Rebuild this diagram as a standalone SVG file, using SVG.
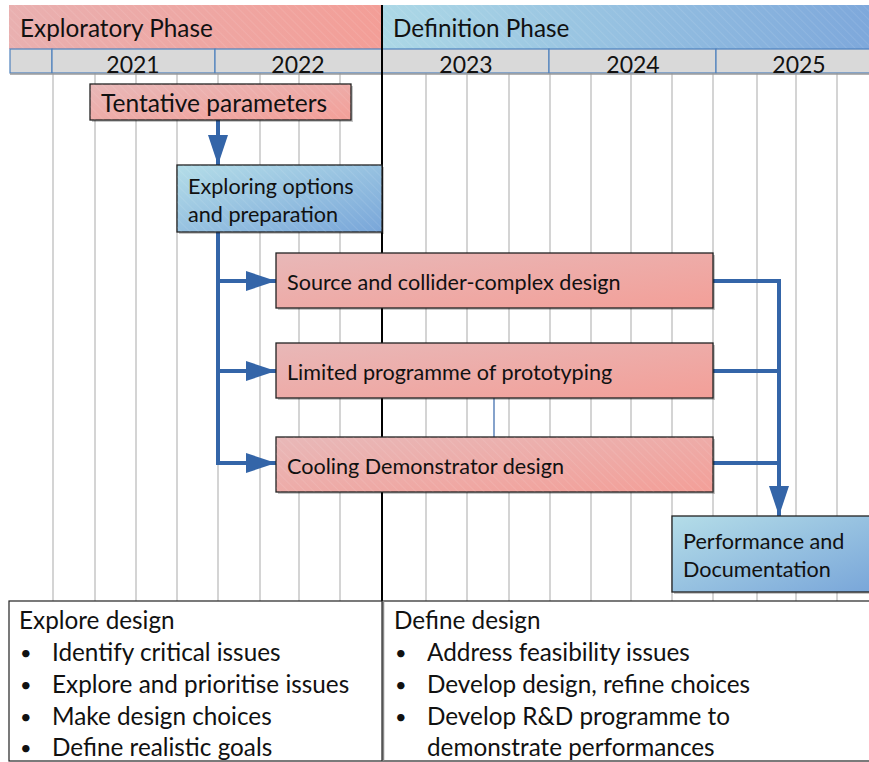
<svg xmlns="http://www.w3.org/2000/svg" width="869" height="762" viewBox="0 0 869 762">
  <defs>
    <linearGradient id="pinkFill" x1="0" y1="0" x2="1" y2="1">
      <stop offset="0" stop-color="#e8b8b8"/>
      <stop offset="1" stop-color="#f39f98"/>
    </linearGradient>
    <linearGradient id="blueFill" x1="0" y1="0" x2="1" y2="1">
      <stop offset="0" stop-color="#b4dde8"/>
      <stop offset="1" stop-color="#79a6d9"/>
    </linearGradient>
    <linearGradient id="pinkBand" x1="0" y1="0" x2="1" y2="0">
      <stop offset="0" stop-color="#e9b0b0"/>
      <stop offset="1" stop-color="#f39e97"/>
    </linearGradient>
    <linearGradient id="blueBand" x1="0" y1="0" x2="1" y2="0">
      <stop offset="0" stop-color="#acd8e6"/>
      <stop offset="1" stop-color="#7ea8db"/>
    </linearGradient>
    <pattern id="hatch" width="6" height="6" patternUnits="userSpaceOnUse" patternTransform="rotate(-45)">
      <line x1="0" y1="0" x2="0" y2="6" stroke="#ffffff" stroke-opacity="0.18" stroke-width="1"/>
    </pattern>
    <marker id="arrow" markerUnits="userSpaceOnUse" markerWidth="30" markerHeight="22" viewBox="0 0 30 22" refX="30" refY="11" orient="auto">
      <path d="M0,1 L30,11 L0,21 Z" fill="#3465a8"/>
    </marker>
    <style>
      text { font-family: Lato, "Noto Sans", "Liberation Sans", sans-serif; fill: #111; }
      .phase { font-size: 24.3px; }
      .year { font-size: 23px; text-anchor: middle; }
      .grid { stroke: #d4d4d4; stroke-width: 2; }
      .yearcell { fill: #d9d9d9; stroke: #4f81bd; stroke-width: 1.2; }
      .node { stroke: #222; stroke-width: 1.3; }
      .shadow { fill: #000; fill-opacity: 0.22; }
      .lbl { font-size: 21.6px; }
      .lblbig { font-size: 24.5px; }
      .conn { fill: none; stroke: #3465a8; stroke-width: 4; }
      .thin { fill: none; stroke: #3465a8; stroke-width: 1.2; }
      .box { fill: #fff; stroke: #222; stroke-width: 1.2; }
      .note { font-size: 24.3px; }
      .bullet { font-size: 20px; }
    </style>
  </defs>

  <rect width="869" height="762" fill="#ffffff"/>

  <!-- quarter grid -->
  <g id="grid">
    <line class="grid" x1="53" y1="73" x2="53" y2="601"/>
    <line class="grid" x1="95" y1="73" x2="95" y2="601"/>
    <line class="grid" x1="136" y1="73" x2="136" y2="601"/>
    <line class="grid" x1="177" y1="73" x2="177" y2="601"/>
    <line class="grid" x1="218" y1="73" x2="218" y2="601"/>
    <line class="grid" x1="260" y1="73" x2="260" y2="601"/>
    <line class="grid" x1="299" y1="73" x2="299" y2="601"/>
    <line class="grid" x1="340" y1="73" x2="340" y2="601"/>
    <line class="grid" x1="426" y1="73" x2="426" y2="601"/>
    <line class="grid" x1="467" y1="73" x2="467" y2="601"/>
    <line class="grid" x1="509" y1="73" x2="509" y2="601"/>
    <line class="grid" x1="550" y1="73" x2="550" y2="601"/>
    <line class="grid" x1="591" y1="73" x2="591" y2="601"/>
    <line class="grid" x1="631" y1="73" x2="631" y2="601"/>
    <line class="grid" x1="672" y1="73" x2="672" y2="601"/>
    <line class="grid" x1="713" y1="73" x2="713" y2="601"/>
    <line class="grid" x1="757" y1="73" x2="757" y2="601"/>
    <line class="grid" x1="796" y1="73" x2="796" y2="601"/>
    <line class="grid" x1="837" y1="73" x2="837" y2="601"/>
  </g>

  <!-- phase bands -->
  <g id="phase-exploratory">
    <rect x="9" y="5" width="373" height="44" fill="url(#pinkBand)"/>
    <rect x="9" y="5" width="373" height="44" fill="url(#hatch)"/>
    <text class="phase" x="20" y="37">Exploratory Phase</text>
  </g>
  <g id="phase-definition">
    <rect x="383" y="5" width="486" height="44" fill="url(#blueBand)"/>
    <rect x="383" y="5" width="486" height="44" fill="url(#hatch)"/>
    <text class="phase" x="393" y="37">Definition Phase</text>
  </g>

  <!-- year row -->
  <g id="years">
    <rect class="yearcell" x="10" y="49" width="42" height="24"/>
    <rect class="yearcell" x="52" y="49" width="163" height="24"/>
    <rect class="yearcell" x="215" y="49" width="167" height="24"/>
    <rect class="yearcell" x="382" y="49" width="167" height="24"/>
    <rect class="yearcell" x="549" y="49" width="167" height="24"/>
    <rect class="yearcell" x="716" y="49" width="160" height="24"/>
    <line x1="10" y1="74" x2="869" y2="74" stroke="#9a9a9a" stroke-width="1.5"/>
    <text class="year" x="133" y="72.5">2021</text>
    <text class="year" x="298" y="72.5">2022</text>
    <text class="year" x="466" y="72.5">2023</text>
    <text class="year" x="633" y="72.5">2024</text>
    <text class="year" x="799" y="72.5">2025</text>
  </g>

  <!-- phase boundary -->
  <line id="phase-boundary" x1="382" y1="5" x2="382" y2="601" stroke="#000" stroke-width="2"/>

  <!-- connectors -->
  <g id="connectors">
    <line class="conn" x1="218" y1="120" x2="218" y2="165" marker-end="url(#arrow)"/>
    <path class="conn" d="M218,232 V463"/>
    <line class="conn" x1="218" y1="281" x2="276" y2="281" marker-end="url(#arrow)"/>
    <line class="conn" x1="218" y1="371" x2="276" y2="371" marker-end="url(#arrow)"/>
    <line class="conn" x1="216" y1="463" x2="276" y2="463" marker-end="url(#arrow)"/>
    <path class="conn" d="M713,281 H779"/>
    <path class="conn" d="M713,371 H779"/>
    <path class="conn" d="M713,463 H779"/>
    <line class="conn" x1="779" y1="279" x2="779" y2="516" marker-end="url(#arrow)"/>
    <line class="thin" x1="494" y1="398" x2="494" y2="437"/>
  </g>

  <!-- nodes -->
  <g id="node-tentative">
    <rect class="shadow" x="92" y="86" width="261" height="36"/>
    <rect class="node" x="90" y="84" width="261" height="36" fill="url(#pinkFill)"/>
    <rect x="90" y="84" width="261" height="36" fill="url(#hatch)"/>
    <text class="lblbig" x="101" y="112">Tentative parameters</text>
  </g>
  <g id="node-exploring">
    <rect class="shadow" x="179" y="167" width="205" height="67"/>
    <rect class="node" x="177" y="165" width="205" height="67" fill="url(#blueFill)"/>
    <rect x="177" y="165" width="205" height="67" fill="url(#hatch)"/>
    <text class="lbl" x="188" y="194">Exploring options</text>
    <text class="lbl" x="188" y="222">and preparation</text>
  </g>
  <g id="node-source">
    <rect class="shadow" x="278" y="255" width="437" height="55"/>
    <rect class="node" x="276" y="253" width="437" height="55" fill="url(#pinkFill)"/>
    <text class="lbl" x="287" y="290">Source and collider-complex design</text>
  </g>
  <g id="node-prototyping">
    <rect class="shadow" x="278" y="345" width="437" height="55"/>
    <rect class="node" x="276" y="343" width="437" height="55" fill="url(#pinkFill)"/>
    <text class="lbl" x="287" y="380">Limited programme of prototyping</text>
  </g>
  <g id="node-cooling">
    <rect class="shadow" x="278" y="439" width="437" height="55"/>
    <rect class="node" x="276" y="437" width="437" height="55" fill="url(#pinkFill)"/>
    <rect x="276" y="437" width="437" height="55" fill="url(#hatch)"/>
    <text class="lbl" x="287" y="474">Cooling Demonstrator design</text>
  </g>
  <g id="node-performance">
    <rect class="shadow" x="674" y="518" width="200" height="76"/>
    <rect class="node" x="672" y="516" width="200" height="76" fill="url(#blueFill)"/>
    <text class="lbl" x="683" y="549">Performance and</text>
    <text class="lbl" x="683" y="577">Documentation</text>
  </g>

  <!-- phase summaries -->
  <g id="summary-explore">
    <rect class="box" x="9" y="601" width="373" height="160"/>
    <text class="note" x="19" y="629">Explore design</text>
    <text class="bullet" x="20" y="660">•</text>
    <text class="note" x="52" y="661">Identify critical issues</text>
    <text class="bullet" x="20" y="692">•</text>
    <text class="note" x="52" y="693">Explore and prioritise issues</text>
    <text class="bullet" x="20" y="724">•</text>
    <text class="note" x="52" y="725">Make design choices</text>
    <text class="bullet" x="20" y="755">•</text>
    <text class="note" x="52" y="756">Define realistic goals</text>
  </g>
  <g id="summary-define">
    <rect class="box" x="383" y="601" width="490" height="160"/>
    <line x1="383.5" y1="601" x2="383.5" y2="761" stroke="#888" stroke-width="1.5"/>
    <text class="note" x="394" y="629">Define design</text>
    <text class="bullet" x="395" y="660">•</text>
    <text class="note" x="427" y="661">Address feasibility issues</text>
    <text class="bullet" x="395" y="692">•</text>
    <text class="note" x="427" y="693">Develop design, refine choices</text>
    <text class="bullet" x="395" y="724">•</text>
    <text class="note" x="427" y="725">Develop R&amp;D programme to</text>
    <text class="note" x="427" y="756">demonstrate performances</text>
  </g>
</svg>
